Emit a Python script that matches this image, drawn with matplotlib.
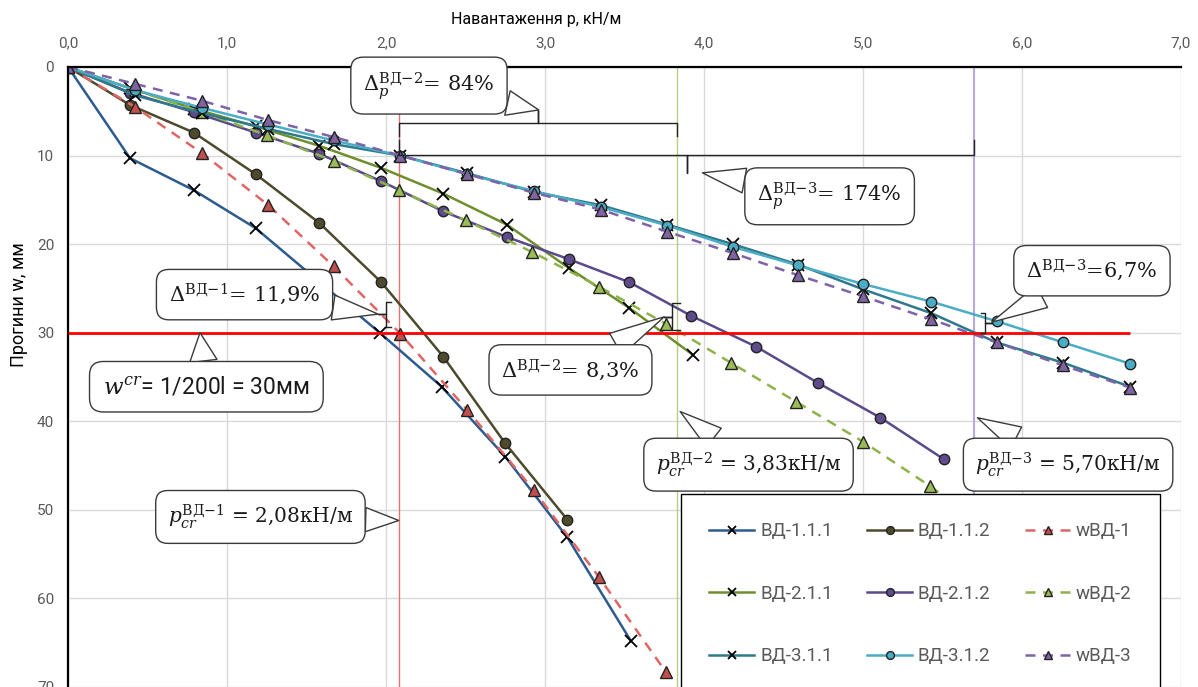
import matplotlib.pyplot as plt

plt.rcParams['font.family'] = ['Roboto', 'DejaVu Sans']
plt.rcParams['mathtext.fontset'] = 'dejavuserif'

# Test data: load p (kN/m) and deflection w (mm)
p_vd111 = [0, 0.39, 0.79, 1.18, 1.96, 2.35, 2.75, 3.14, 3.54]
w_vd111 = [0, 10.3, 13.9, 18.2, 30.0, 36.1, 44.0, 53.1, 64.8]
p_vd112 = [0, 0.39, 0.79, 1.18, 1.58, 1.97, 2.36, 2.75, 3.14]
w_vd112 = [0, 4.3, 7.4, 12.1, 17.6, 24.3, 32.7, 42.5, 51.1]
p_w1 = [0, 0.42, 0.84, 1.26, 1.67, 2.09, 2.51, 2.93, 3.34, 3.76]
w_w1 = [0, 4.5, 9.7, 15.6, 22.5, 30.1, 38.7, 47.8, 57.6, 68.3]

p_vd211 = [0, 0.39, 0.79, 1.18, 1.58, 1.97, 2.36, 2.76, 3.15, 3.53, 3.93]
w_vd211 = [0, 2.4, 4.7, 6.7, 8.9, 11.4, 14.3, 17.8, 22.7, 27.2, 32.5]
p_vd212 = [0, 0.39, 0.79, 1.18, 1.58, 1.97, 2.36, 2.76, 3.15, 3.53, 3.92, 4.33, 4.72, 5.11, 5.51]
w_vd212 = [0, 2.9, 5.1, 7.4, 9.8, 12.9, 16.3, 19.2, 21.7, 24.3, 28.1, 31.6, 35.7, 39.6, 44.3]
p_w2 = [0, 0.42, 0.84, 1.25, 1.67, 2.08, 2.50, 2.92, 3.34, 3.76, 4.17, 4.58, 5.00, 5.42, 5.84]
w_w2 = [0, 2.6, 5.1, 7.7, 10.6, 13.9, 17.3, 20.9, 24.8, 29.0, 33.4, 37.8, 42.3, 47.3, 52.8]

p_vd3 = [0, 0.42, 0.84, 1.26, 1.67, 2.09, 2.51, 2.93, 3.35, 3.77, 4.18, 4.59, 5.00, 5.43, 5.84, 6.26, 6.68]
w_vd311 = [0, 3.2, 5.2, 7.0, 8.7, 10.0, 12.0, 14.1, 15.6, 17.8, 20.0, 22.3, 25.1, 27.8, 31.1, 33.4, 36.1]
w_vd312 = [0, 2.6, 4.6, 6.5, 8.3, 10.0, 12.1, 14.0, 15.8, 17.9, 20.3, 22.4, 24.5, 26.5, 28.7, 31.1, 33.5]
w_w3 = [0, 1.9, 3.8, 6.0, 7.9, 10.0, 12.1, 14.2, 16.1, 18.6, 21.0, 23.5, 25.9, 28.5, 31.1, 33.7, 36.2]

p_cr = [2.08, 3.83, 5.70]
w_cr = 30

x_ticks = [0, 1, 2, 3, 4, 5, 6, 7]
x_labels = ["0,0", "1,0", "2,0", "3,0", "4,0", "5,0", "6,0", "7,0"]
y_ticks = [0, 10, 20, 30, 40, 50, 60, 70]

fig = plt.figure(figsize=(11.98, 6.87), dpi=100)
ax = fig.add_axes([0.0568, 0.0, 0.929, 0.9025])

# Series
xs = dict(marker='x', ms=8, mec='black', mew=1.3)
cs = dict(marker='o', ms=7.5, mec='#222222', mew=1)
ts = dict(marker='^', ms=8.5, mec='#222222', mew=1)

l111, = ax.plot(p_vd111, w_vd111, color='#2E5B8F', lw=1.8, label='ВД-1.1.1', **xs)
l112, = ax.plot(p_vd112, w_vd112, color='#4D4B2C', lw=1.8, mfc='#4D4B2C', label='ВД-1.1.2', **cs)
lw1, = ax.plot(p_w1, w_w1, color='#E06666', lw=1.8, ls=(0, (4, 3)), mfc='#C0504D', label='wВД-1', **ts)

l211, = ax.plot(p_vd211, w_vd211, color='#6E8F2E', lw=1.8, label='ВД-2.1.1', **xs)
l212, = ax.plot(p_vd212, w_vd212, color='#5B4A8B', lw=1.8, mfc='#5F4B8B', label='ВД-2.1.2', **cs)
lw2, = ax.plot(p_w2, w_w2, color='#8DB34A', lw=1.8, ls=(0, (4, 3)), mfc='#9BBB59', label='wВД-2', **ts)

l311, = ax.plot(p_vd3, w_vd311, color='#2E7A8C', lw=1.8, label='ВД-3.1.1', **xs)
l312, = ax.plot(p_vd3, w_vd312, color='#4BACC6', lw=1.8, mfc='#4BACC6', label='ВД-3.1.2', **cs)
lw3, = ax.plot(p_vd3, w_w3, color='#7E63A8', lw=1.8, ls=(0, (4, 3)), mfc='#8064A2', label='wВД-3', **ts)

# Critical lines
ax.hlines(w_cr, 0, p_vd3[-1], color='red', lw=2, zorder=5)
ax.axvline(p_cr[0], color='#E57373', lw=1, zorder=1)
ax.axvline(p_cr[1], color='#B5CF7F', lw=1, zorder=1)
ax.axvline(p_cr[2], color='#B9A9D9', lw=1.5, zorder=1)

# Axes styling
ax.set_xlim(0, 7)
ax.set_ylim(70, 0)
ax.xaxis.tick_top()
ax.set_xticks(x_ticks)
ax.set_xticklabels(x_labels)
ax.set_yticks(y_ticks)
ax.tick_params(length=0, labelsize=11, labelcolor='#595959')
ax.tick_params(axis='x', pad=12)
ax.tick_params(axis='y', pad=10)
ax.xaxis.set_label_position('top')
ax.set_xlabel("Навантаження p, кН/м", fontsize=11.5, x=0.421, labelpad=9)
ax.set_ylabel("Прогини w, мм", fontsize=13, y=0.616, labelpad=6)
ax.grid(True, color='#D9D9D9', lw=1)
ax.set_axisbelow(True)
ax.spines['right'].set_visible(False)
ax.spines['bottom'].set_visible(False)
ax.spines['top'].set_linewidth(1.6)
ax.spines['left'].set_linewidth(1.6)


# Braces
def brace_h(x0, x1, y, tip, hook):
    xm = (x0 + x1) / 2
    ax.plot([x0, x0, xm, xm, xm, x1, x1], [y + hook, y, y, tip, y, y, y + hook],
            color='#222222', lw=1, zorder=15, clip_on=False)


def brace_v(x, y0, y1, tip, hook):
    ym = (y0 + y1) / 2
    ax.plot([x + hook, x, x, x + tip, x, x, x + hook], [y0, y0, ym, ym, ym, y1, y1],
            color='#222222', lw=1, zorder=15)


brace_h(p_cr[0], p_cr[1], 6.3, 4.85, 1.5)
brace_h(p_cr[0], p_cr[2], 9.9, 11.95, -1.7)
brace_v(2.0, 26.5, 29.3, -0.05, 0.03)
brace_v(3.80, 26.7, 29.7, -0.05, 0.05)
brace_v(5.77, 27.8, 30.0, 0.04, -0.03)


# Callouts
def callout(text, xy, xytext, family='DejaVu Serif', size=15):
    ax.annotate(text, xy=xy, xytext=xytext, ha='center', va='center',
                fontsize=size, family=family, color='#1a1a1a',
                bbox=dict(boxstyle='round,pad=0.6,rounding_size=0.6', fc='white', ec='#3a3a3a', lw=1),
                arrowprops=dict(arrowstyle='wedge,tail_width=1.2,shrink_factor=0.5',
                                fc='white', ec='#3a3a3a', lw=1, shrinkA=0, shrinkB=0),
                zorder=20, annotation_clip=False)


callout(r'$\Delta_p^{\mathrm{ВД}{-}2}$= 84%', (2.96, 4.85), (2.27, 2.1))
callout(r'$\Delta_p^{\mathrm{ВД}{-}3}$= 174%', (3.99, 11.95), (4.79, 14.6))
callout(r'$\Delta^{\mathrm{ВД}{-}1}$= 11,9%', (1.95, 27.9), (1.11, 25.7))
callout(r'$w^{cr}$= 1/200l = 30мм', (0.83, 30.0), (0.87, 36.1), family=['Roboto', 'DejaVu Sans'], size=16.5)
callout(r'$\Delta^{\mathrm{ВД}{-}2}$= 8,3%', (3.75, 28.2), (3.16, 34.2))
callout(r'$p_{cr}^{\mathrm{ВД}{-}2}$ = 3,83кН/м', (3.85, 38.9), (4.28, 44.9), size=14.5)
callout(r'$p_{cr}^{\mathrm{ВД}{-}3}$ = 5,70кН/м', (5.72, 39.6), (6.29, 44.9), size=14.5)
callout(r'$p_{cr}^{\mathrm{ВД}{-}1}$ = 2,08кН/м', (2.08, 51.2), (1.21, 50.8), size=14.5)
callout(r'$\Delta^{\mathrm{ВД}{-}3}$=6,7%', (5.81, 28.8), (6.44, 23.0))

# Legend
leg = ax.legend(handles=[l111, l211, l311, l112, l212, l312, lw1, lw2, lw3],
                ncol=3, loc='lower left', bbox_to_anchor=(0.551, -0.01, 0.430, 0.3),
                mode='expand', fontsize=13.5, labelcolor='#595959', fancybox=False,
                framealpha=1, edgecolor='black', borderpad=1.5, labelspacing=2.37,
                handlelength=2.4, handletextpad=0.3, borderaxespad=0, markerscale=0.75)
leg.get_frame().set_linewidth(1)
leg.set_zorder(25)

fig.savefig('out.png', dpi=100)
